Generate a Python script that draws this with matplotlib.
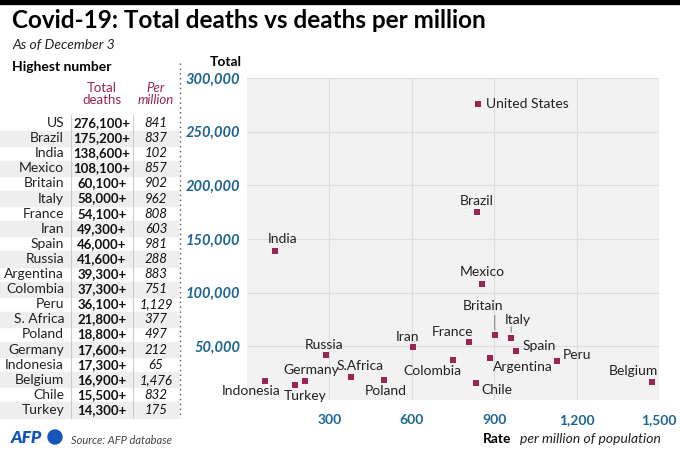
import matplotlib
matplotlib.use("Agg")
import matplotlib.pyplot as plt
from matplotlib.patches import Rectangle, Ellipse

plt.rcParams['font.family'] = ['Lato', 'DejaVu Sans']

# data
countries = ['US', 'Brazil', 'India', 'Mexico', 'Britain', 'Italy', 'France', 'Iran',
             'Spain', 'Russia', 'Argentina', 'Colombia', 'Peru', 'S. Africa', 'Poland',
             'Germany', 'Indonesia', 'Belgium', 'Chile', 'Turkey']
total_deaths = [276100, 175200, 138600, 108100, 60100, 58000, 54100, 49300,
                46000, 41600, 39300, 37300, 36100, 21800, 18800,
                17600, 17300, 16900, 15500, 14300]
per_million = [841, 837, 102, 857, 902, 962, 808, 603,
               981, 288, 883, 751, 1129, 377, 497,
               212, 65, 1476, 832, 175]
point_names = ['United States', 'Brazil', 'India', 'Mexico', 'Britain', 'Italy', 'France',
               'Iran', 'Spain', 'Russia', 'Argentina', 'Colombia', 'Peru', 'S.Africa',
               'Poland', 'Germany', 'Indonesia', 'Belgium', 'Chile', 'Turkey']
y_ticks = [50000, 100000, 150000, 200000, 250000, 300000]
x_ticks = [300, 600, 900, 1200, 1500]

MAROON = '#9b2456'
BLUE = '#1d6591'
W, H = 680, 455

# label offsets in pixels (dx, dy up), alignment
label_pos = {
    'United States': (8, 0, 'left'),
    'Brazil': (0, 11, 'center'),
    'India': (8, 12, 'center'),
    'Mexico': (0, 12, 'center'),
    'Britain': (-12, 29, 'center'),
    'Italy': (7, 18, 'center'),
    'France': (-16, 10, 'center'),
    'Iran': (-5, 10, 'center'),
    'Spain': (6, 5, 'left'),
    'Russia': (-2, 10, 'center'),
    'Argentina': (3, -9, 'left'),
    'Colombia': (-21, -11, 'center'),
    'Peru': (6, 6, 'left'),
    'S.Africa': (9, 11, 'center'),
    'Poland': (2, -11, 'center'),
    'Germany': (6, 11, 'center'),
    'Indonesia': (-14, -10, 'center'),
    'Belgium': (-19, 11, 'center'),
    'Chile': (6, -7, 'left'),
    'Turkey': (10, -11, 'center'),
}
leaders = {'Britain': 20, 'Italy': 11}

fig = plt.figure(figsize=(W / 100, H / 100), dpi=100)

def fx(px):
    return px / W

def fy(py):
    return 1 - py / H

# top black rule
fig.patches.append(Rectangle((0, fy(4)), 1, 4 / H, transform=fig.transFigure,
                             color='black', zorder=5))

fig.text(fx(12), fy(21), 'Covid-19: Total deaths vs deaths per million', fontsize=17.5,
         fontweight='bold', va='center', ha='left')
fig.text(fx(12), fy(45), 'As of December 3', fontsize=10, style='italic',
         va='center', ha='left', color='#222222')

# left table
fig.text(fx(12), fy(67), 'Highest number', fontsize=10, fontweight='bold', va='center')
fig.text(fx(102), fy(94), 'Total\ndeaths', fontsize=9.5, color=MAROON, ha='center',
         va='center', linespacing=1.05)
fig.text(fx(156), fy(94), 'Per\nmillion', fontsize=9.5, color=MAROON, ha='center',
         va='center', style='italic', linespacing=1.05)

row0, step = 123, (410 - 123) / 19
for i, (c, t, p) in enumerate(zip(countries, total_deaths, per_million)):
    yc = row0 + i * step
    if i % 2 == 1:
        fig.patches.append(Rectangle((0, fy(yc + step / 2)), fx(178), step / H,
                                     transform=fig.transFigure, color='#eeeeee', zorder=0))
    fig.text(fx(64), fy(yc), c, fontsize=10, ha='right', va='center', color='#222222')
    fig.text(fx(102), fy(yc), f'{t:,}+', fontsize=9.5, ha='center', va='center',
             fontweight='bold', color='#111111')
    fig.text(fx(156), fy(yc), f'{p:,}', fontsize=9.5, ha='center', va='center',
             style='italic', color='#111111')
for xs in (71, 133):
    fig.add_artist(plt.Line2D([fx(xs), fx(xs)], [fy(115), fy(418)], transform=fig.transFigure,
                              color='#cccccc', lw=0.8))
# dotted separator
fig.add_artist(plt.Line2D([fx(180), fx(180)], [fy(63), fy(418)], transform=fig.transFigure,
                          color='#555555', lw=1.0, linestyle=(0, (1, 2.5))))

# footer
fig.text(fx(11), fy(438), 'AFP', fontsize=12.5, fontweight='heavy', style='italic',
         color='#1457b8', va='center', ha='left')
fig.patches.append(Ellipse((fx(55), fy(437)), 14 / W, 14 / H, transform=fig.transFigure,
                           color='#1457b8'))
fig.text(fx(71), fy(440), 'Source: AFP database', fontsize=8, style='italic',
         color='#444444', va='center')

# scatter
ax = fig.add_axes([fx(247), fy(400), fx(659) - fx(247), (400 - 78) / H])
ax.set_facecolor('#f2f2f2')
ax.set_xlim(0, 1500)
ax.set_ylim(0, 300000)
ax.set_xticks(x_ticks)
ax.set_yticks(y_ticks)
ax.grid(True, color='#dddddd', lw=0.9)
ax.set_axisbelow(True)
for s in ax.spines.values():
    s.set_visible(False)
ax.tick_params(length=0)
ax.set_xticklabels([f'{v:,}' for v in x_ticks], fontsize=10, fontweight='bold', color=BLUE)
ax.set_yticklabels([f'{v:,}' for v in y_ticks], fontsize=10.5, fontweight='bold',
                   style='italic', color=BLUE)
ax.tick_params(axis='x', pad=10)
ax.tick_params(axis='y', pad=5)

ax.scatter(per_million, total_deaths, marker='s', s=20, color=MAROON, zorder=3, linewidths=0)
for name, x, y in zip(point_names, per_million, total_deaths):
    dx, dy, ha = label_pos[name]
    ax.annotate(name, (x, y), xytext=(dx * 0.72, dy * 0.72), textcoords='offset points',
                ha=ha, va='center', fontsize=10, color='#222222')
    if name in leaders:
        ax.annotate('', (x, y), xytext=(0, leaders[name] * 0.72), textcoords='offset points',
                    arrowprops=dict(arrowstyle='-', color='#888888', lw=0.8,
                                    shrinkA=0, shrinkB=4))

fig.text(fx(242), fy(62), 'Total', fontsize=10, fontweight='bold', ha='right', va='center')
fig.text(fx(511), fy(439), 'Rate', fontsize=10, fontweight='bold', ha='right', va='center')
fig.text(fx(520), fy(439), 'per million of population', fontsize=10, style='italic',
         ha='left', va='center', color='#222222')

fig.savefig('out.png', dpi=100)
